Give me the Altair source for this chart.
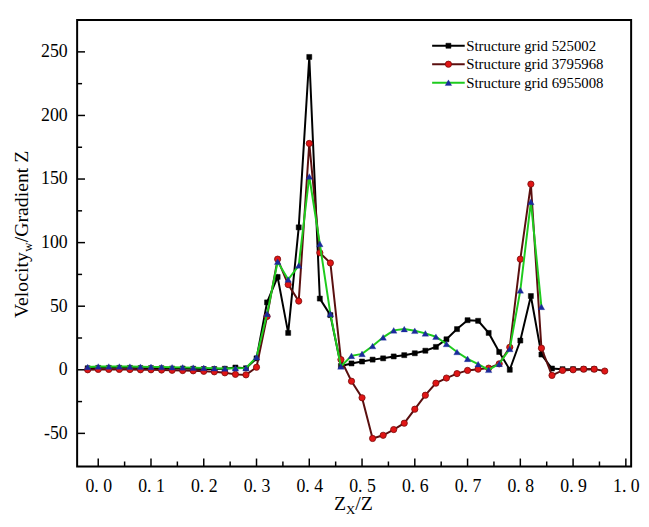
import altair as alt
import pandas as pd

# ---------------- data ----------------
x_values = [-0.02, 0.00, 0.02, 0.04, 0.06, 0.08, 0.10, 0.12, 0.14, 0.16,
            0.18, 0.20, 0.22, 0.24, 0.26, 0.28, 0.30, 0.32, 0.34, 0.36,
            0.38, 0.40, 0.42, 0.44, 0.46, 0.48, 0.50, 0.52, 0.54, 0.56,
            0.58, 0.60, 0.62, 0.64, 0.66, 0.68, 0.70, 0.72, 0.74, 0.76,
            0.78, 0.80, 0.82, 0.84, 0.86, 0.88, 0.90, 0.92, 0.94, 0.96]

black_y = [1.2, 1.5, 1.5, 1.5, 1.5, 1.3, 1.3, 1.2, 1.0, 1.0, 0.8, 0.6, 0.6, 0.8, 1.8, 1.2,
           9, 53, 73, 29, 112, 246, 56, 43,
           3, 5, 6.5, 8, 9, 10.5, 11.5, 13, 15, 18, 24, 32, 39, 38.5, 29, 14, 0, 23, 58, 12,
           1, 0.5, 0.5, 0.5, 0.5]

red_y = [0, 0.3, 0.3, 0.3, 0.2, 0, 0, -0.2, -0.4, -0.6, -0.8, -1.2, -1.6, -2.4, -3.6, -4.0,
         2, 42, 87, 67, 54, 178, 92, 84,
         8, -9, -22, -54, -51.5, -47, -42, -31, -20, -10.5, -6.5, -3, -0.5, 0.5, 1.3, 4.7, 17.7, 87, 146, 17,
         -4.4, -0.5, 0, 0.5, 0.5, -1]

green_y = [2.2, 2.6, 2.6, 2.6, 2.5, 2.4, 2.3, 2.2, 2.0, 1.9, 1.7, 1.5, 1.2, 1.0, 1.2, 1.4,
           10, 44, 85, 71, 82, 152, 99, 44,
           2.6, 11, 12.5, 18.7, 25.5, 31, 32, 30.7, 28.6, 26, 20.3, 14, 8.6, 4.4, 0, 4.7, 16.4, 62.5, 132, 49.5]

series_names = ["Structure grid 525002", "Structure grid 3795968", "Structure grid 6955008"]
series_values = [black_y, red_y, green_y]

x_major = [0.0, 0.1, 0.2, 0.3, 0.4, 0.5, 0.6, 0.7, 0.8, 0.9, 1.0]
x_minor = [0.05, 0.15, 0.25, 0.35, 0.45, 0.55, 0.65, 0.75, 0.85, 0.95]
y_major = [-50, 0, 50, 100, 150, 200, 250]
y_minor = [-25, 25, 75, 125, 175, 225]

# ---------------- layout / style ----------------
W, H = 561, 452
FONT = "Liberation Serif"
xscale = alt.Scale(domain=[-0.04, 1.01], nice=False, zero=False)
yscale = alt.Scale(domain=[-76, 275], nice=False, zero=False)

xaxis = alt.Axis(values=x_major, title=None, grid=False, domain=False, ticks=False, tickSize=0,
                 labelExpr="replace(format(datum.value, '.1f'), '.', '. ')",
                 labelFont=FONT, labelFontSize=18, labelColor="black", labelPadding=11,
                 labelFlush=False, labelOverlap=False)
yaxis = alt.Axis(values=y_major, title=None, grid=False, domain=False, ticks=False, tickSize=0,
                 labelExpr="'' + datum.value",
                 labelFont=FONT, labelFontSize=18, labelColor="black", labelPadding=10,
                 labelFlush=False, labelOverlap=False)

X = alt.X("x:Q", scale=xscale, axis=xaxis)
Y = alt.Y("y:Q", scale=yscale, axis=yaxis)

styles = [
    dict(line="#000000", fill="#000000", stroke="#000000", shape="square", size=26, sw=0.5),
    dict(line="#5a0f0f", fill="#e01515", stroke="#7a0a0a", shape="circle", size=40, sw=0.8),
    dict(line="#1ecb1e", fill="#1a2a9c", stroke="#1a2a9c", shape="triangle-up", size=44, sw=0.3),
]

layers = []
one = pd.DataFrame({"k": [0]})

# plot frame
layers.append(alt.Chart(one).mark_rect(filled=False, stroke="black", strokeWidth=2).encode(
    x=alt.value(0), x2=alt.value(W), y=alt.value(0), y2=alt.value(H)))

# inward ticks
def tick_layer(vals, length, axis_dir):
    df = pd.DataFrame({"x": vals}) if axis_dir == "x" else pd.DataFrame({"y": vals})
    if axis_dir == "x":
        return alt.Chart(df).mark_rule(color="black", strokeWidth=1.5).encode(
            x=X, y=alt.value(H), y2=alt.value(H - length))
    return alt.Chart(df).mark_rule(color="black", strokeWidth=1.5).encode(
        y=Y, x=alt.value(0), x2=alt.value(length))

layers.append(tick_layer(x_major, 8, "x"))
layers.append(tick_layer(x_minor, 5, "x"))
layers.append(tick_layer(y_major, 8, "y"))
layers.append(tick_layer(y_minor, 5, "y"))

# data series
for name, vals, st in zip(series_names, series_values, styles):
    df = pd.DataFrame({"x": x_values[:len(vals)], "y": vals, "series": name})
    base = alt.Chart(df)
    layers.append(base.mark_line(color=st["line"], strokeWidth=2).encode(x=X, y=Y))
    layers.append(base.mark_point(shape=st["shape"], filled=True, fill=st["fill"], stroke=st["stroke"],
                                  strokeWidth=st["sw"], size=st["size"], opacity=1).encode(x=X, y=Y))

# manual legend
leg_y0, leg_dy = 26, 18.7
for i, (name, st) in enumerate(zip(series_names, styles)):
    ly = leg_y0 + i * leg_dy
    layers.append(alt.Chart(one).mark_rule(color=st["line"], strokeWidth=2).encode(
        x=alt.value(359.5), x2=alt.value(392.5), y=alt.value(ly)))
    layers.append(alt.Chart(one).mark_point(shape=st["shape"], filled=True, fill=st["fill"],
                                            stroke=st["stroke"], strokeWidth=st["sw"], size=st["size"],
                                            opacity=1).encode(x=alt.value(376), y=alt.value(ly)))
    layers.append(alt.Chart(one).mark_text(align="left", baseline="middle", font=FONT, fontSize=15,
                                           color="black").encode(
        x=alt.value(394), y=alt.value(ly), text=alt.value(name)))

# axis titles with subscripts
def txt(s, x, y, size, align, dx=0, dy=0, angle=0):
    return alt.Chart(one).mark_text(align=align, baseline="alphabetic", font=FONT, fontSize=size,
                                    color="black", dx=dx, dy=dy, angle=angle).encode(
        x=alt.value(x), y=alt.value(y), text=alt.value(s))

# x title: Z_X/Z
tx, ty = 277, 496
layers.append(txt("Z", tx, ty, 20, "right", dx=-4.7))
layers.append(txt("X", tx, ty, 13, "center", dy=4))
layers.append(txt("/Z", tx, ty, 20, "left", dx=4.7))

# y title: Velocity_w/Gradient Z
yx, yy = -49.5, 230
layers.append(txt("Velocity", yx, yy, 20, "right", dx=-5, angle=270))
layers.append(txt("w", yx, yy, 13, "center", dy=4, angle=270))
layers.append(txt("/Gradient Z", yx, yy, 20, "left", dx=5, angle=270))

chart = alt.layer(*layers).properties(
    width=W, height=H,
    autosize=alt.AutoSizeParams(type="none"),
    padding={"left": 70, "top": 9, "right": 10, "bottom": 50},
).configure_view(stroke="transparent").configure(background="white")

chart.save("out.html", embed_options={"renderer": "svg", "actions": False})
